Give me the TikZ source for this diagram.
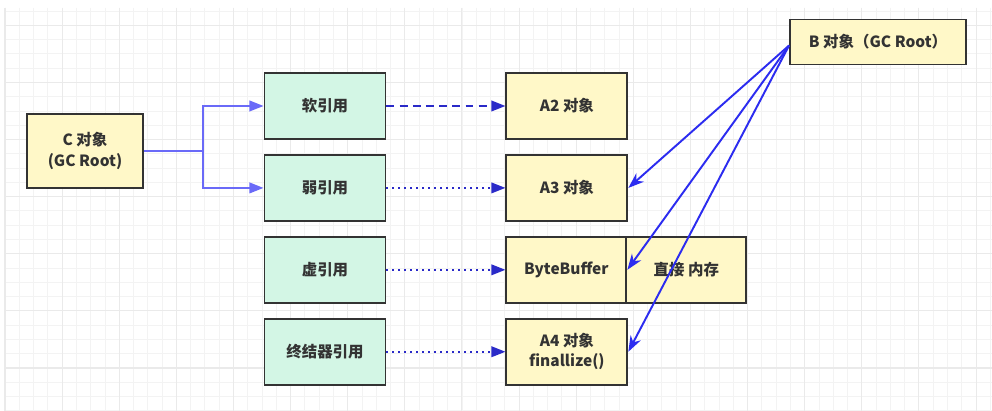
\documentclass[tikz,border=0pt]{standalone}
\usepackage{fontspec}
\setmainfont{Noto Sans CJK SC}
\usetikzlibrary{arrows.meta,positioning}
\definecolor{ink}{HTML}{333333}
\definecolor{objfill}{HTML}{FFF8C8}
\definecolor{reffill}{HTML}{D3F6E5}
\definecolor{gridminor}{HTML}{F3F3F3}
\definecolor{gridmajor}{HTML}{EAEAEA}
\definecolor{forkblue}{HTML}{6A6AF8}
\definecolor{deepblue}{HTML}{2A2AC8}
\definecolor{rootblue}{HTML}{2C2CF0}

\tikzset{
  box/.style={draw=ink, line width=1.1pt, minimum width=2.42cm, minimum height=1.32cm,
    inner sep=0pt, align=center, text=ink, font=\bfseries\fontsize{8.8}{11.5}\selectfont},
  objbox/.style={box, fill=objfill},
  refbox/.style={box, fill=reffill},
  forkline/.style={forkblue, line width=1.1pt, -{Triangle[length=8pt,width=6pt]}},
  softline/.style={deepblue, line width=1.1pt, dash pattern=on 4.5pt off 3pt, -{Triangle[length=8pt,width=6pt]}},
  dotline/.style={deepblue, line width=1.1pt, dash pattern=on 1.1pt off 2.3pt, -{Triangle[length=8pt,width=6pt]}},
  rootline/.style={rootblue, line width=1.1pt, -{Stealth[length=9pt,width=6.5pt]}}
}

\begin{document}
\begin{tikzpicture}[x=0.02cm,y=-0.02cm]
  \useasboundingbox (0,0) rectangle (992,411);
  \fill[white] (0,0) rectangle (992,411);
  % canvas grid
  \foreach \i in {0,...,69} {
    \draw[gridminor,line width=0.5pt] ({5+\i*14.28},8) -- ({5+\i*14.28},411);
  }
  \foreach \j in {0,...,28} {
    \draw[gridminor,line width=0.5pt] (5,{11+\j*14.28}) -- (992,{11+\j*14.28});
  }
  \foreach \i in {0,...,17} {
    \draw[gridmajor,line width=0.6pt] ({5+\i*57.12},8) -- ({5+\i*57.12},411);
  }
  \foreach \j in {0,...,7} {
    \draw[gridmajor,line width=0.6pt] (5,{25.3+\j*57.12}) -- (992,{25.3+\j*57.12});
  }

  % roots
  \node[objbox, minimum width=2.32cm, minimum height=1.48cm] (croot) at (85,151) {C 对象\\(GC Root)};
  \node[objbox, minimum width=3.52cm, minimum height=0.9cm] (broot) at (878,42) {B 对象（GC Root）};

  % references
  \node[refbox] (soft) at (325,106) {软引用};
  \node[refbox, below=0.28cm of soft] (weak) {弱引用};
  \node[refbox, below=0.28cm of weak] (phantom) {虚引用};
  \node[refbox, below=0.28cm of phantom] (final) {终结器引用};

  % referents
  \node[objbox, right=2.38cm of soft] (atwo) {A2 对象};
  \node[objbox, right=2.38cm of weak] (athree) {A3 对象};
  \node[objbox, right=2.38cm of phantom, minimum width=2.4cm] (buffer) {ByteBuffer};
  \node[objbox, right=-1.1pt of buffer, minimum width=2.4cm] (direct) {直接 内存};
  \node[objbox, right=2.38cm of final] (afour) {A4 对象\\finallize()};

  % C root to references
  \coordinate (fork) at (203,151);
  \draw[forkline] (croot.east) -- (fork) |- (soft.west);
  \draw[forkline] (fork) |- (weak.west);

  % references to referents
  \draw[softline] (soft) -- (atwo);
  \draw[dotline] (weak) -- (athree);
  \draw[dotline] (phantom) -- (buffer);
  \draw[dotline] (final) -- (afour);

  % B root to referents
  \coordinate (bstart) at ([yshift=-2pt]broot.west);
  \draw[rootline] (bstart) -- (athree.east);
  \draw[rootline] (bstart) -- (buffer.east);
  \draw[rootline] (bstart) -- (afour.east);
\end{tikzpicture}
\end{document}
